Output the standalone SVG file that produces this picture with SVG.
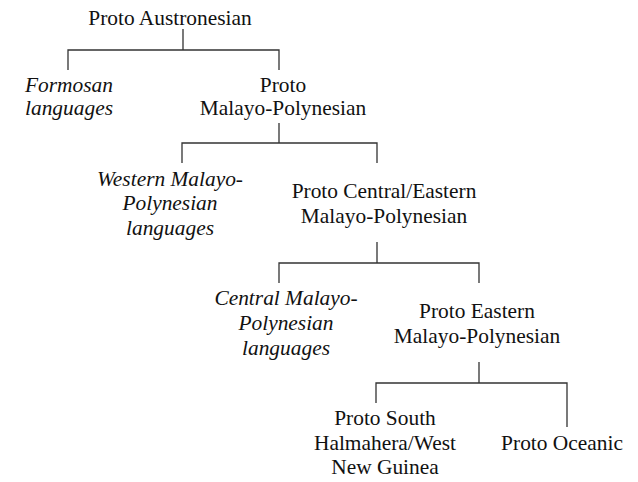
<svg xmlns="http://www.w3.org/2000/svg" width="638" height="482" viewBox="0 0 638 482">
<style>
text{font-family:"Liberation Serif","Times New Roman",serif;font-size:21.4px;fill:#111;text-anchor:middle}
.i{font-style:italic}
.c{stroke:#333;stroke-width:1.3;fill:none}
</style>
<rect width="638" height="482" fill="#fff"/>
<g id="connectors">
<path class="c" d="M183 29V50M68 70V50H279V70"/>
<path class="c" d="M279 123V143M182 163V143H377V163"/>
<path class="c" d="M377 242V263M279 283V263H479V283"/>
<path class="c" d="M479 362V383M376 403V383H567V427"/>
</g>
<g id="n-pan"><text x="170" y="25">Proto Austronesian</text></g>
<g id="n-formosan"><text class="i" x="69" y="92">Formosan</text><text class="i" x="69" y="115">languages</text></g>
<g id="n-pmp"><text x="283" y="92">Proto</text><text x="283" y="115">Malayo-Polynesian</text></g>
<g id="n-wmp"><text class="i" x="170" y="186">Western Malayo-</text><text class="i" x="170" y="210">Polynesian</text><text class="i" x="170" y="235">languages</text></g>
<g id="n-pcemp"><text x="384" y="198">Proto Central/Eastern</text><text x="384" y="223">Malayo-Polynesian</text></g>
<g id="n-cmp"><text class="i" x="286" y="305">Central Malayo-</text><text class="i" x="286" y="330">Polynesian</text><text class="i" x="286" y="355">languages</text></g>
<g id="n-pemp"><text x="477" y="318">Proto Eastern</text><text x="477" y="343">Malayo-Polynesian</text></g>
<g id="n-pshwng"><text x="385" y="425">Proto South</text><text x="385" y="450">Halmahera/West</text><text x="385" y="474">New Guinea</text></g>
<g id="n-poc"><text x="562" y="450">Proto Oceanic</text></g>
</svg>
